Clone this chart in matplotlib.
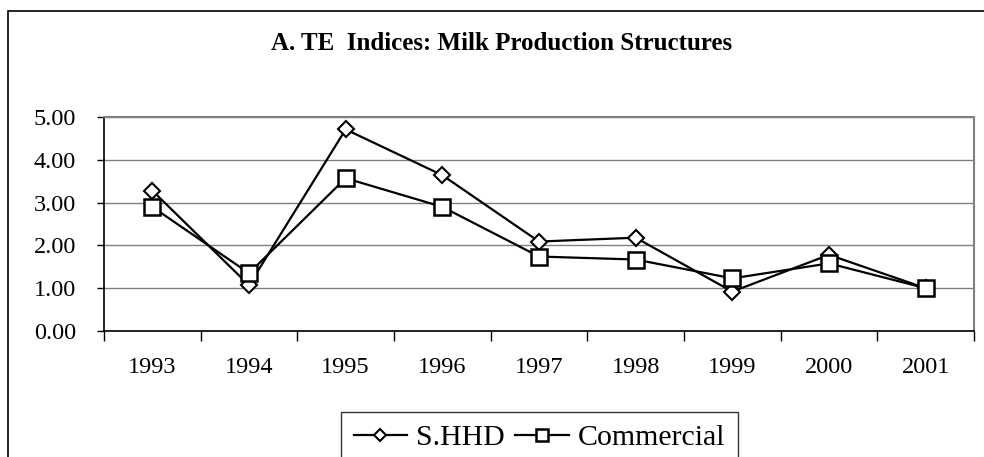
import matplotlib
matplotlib.use("Agg")
import matplotlib.pyplot as plt
from matplotlib.patches import Rectangle

years = ["1993", "1994", "1995", "1996", "1997", "1998", "1999", "2000", "2001"]
shhd = [3.28, 1.07, 4.71, 3.64, 2.09, 2.18, 0.92, 1.78, 1.00]
commercial = [2.90, 1.35, 3.57, 2.90, 1.74, 1.67, 1.23, 1.58, 1.00]
yticks = [0, 1, 2, 3, 4, 5]

plt.rcParams['font.family'] = ['Liberation Serif', 'DejaVu Serif']

W, H = 984, 457
fig = plt.figure(figsize=(W / 100, H / 100), dpi=100)

# outer chart frame
fig.patches.append(Rectangle((8 / W, -0.05), 1.1, 1 - 11 / H + 0.05, transform=fig.transFigure,
                             fill=False, edgecolor='black', linewidth=1.2))

left, right, top, bottom = 104, 974, 117, 331
ax = fig.add_axes([left / W, 1 - bottom / H, (right - left) / W, (bottom - top) / H])

x = list(range(len(years)))
ax.plot(x, shhd, color='black', linewidth=1.6, marker='D', markersize=8,
        markerfacecolor='white', markeredgecolor='black', markeredgewidth=1.5, label='S.HHD', zorder=3)
ax.plot(x, commercial, color='black', linewidth=1.6, marker='s', markersize=11,
        markerfacecolor='white', markeredgecolor='black', markeredgewidth=1.8, label='Commercial', zorder=3)

ax.set_xlim(-0.5, len(years) - 0.5)
ax.set_ylim(0, 5)
ax.set_yticks(yticks)
ax.set_yticklabels([f"{v:.2f}" for v in yticks], fontsize=17.5)
ax.set_xticks(x)
ax.set_xticklabels(years, fontsize=17.5)
ax.tick_params(axis='x', length=0, pad=19)
ax.set_xticks([i - 0.5 for i in range(len(years) + 1)], minor=True)
ax.tick_params(axis='x', which='minor', length=7, width=1, direction='out', color='black')
ax.tick_params(axis='y', length=5, width=1, direction='out', pad=15)

ax.yaxis.grid(True, color='#808080', linewidth=1)
ax.set_axisbelow(True)
for s in ['top', 'right']:
    ax.spines[s].set_color('#808080')
    ax.spines[s].set_linewidth(1.5)
for s in ['left', 'bottom']:
    ax.spines[s].set_color('black')
    ax.spines[s].set_linewidth(1.2)

fig.text(502 / W, 1 - 43 / H, "A. TE  Indices: Milk Production Structures", ha='center', va='center',
         fontsize=18, fontweight='bold')

leg = fig.legend(loc='upper left', bbox_to_anchor=(341 / W, 1 - 412 / H), ncol=2, fontsize=21.5,
                 frameon=True, fancybox=False, edgecolor='black', handlelength=1.8,
                 handletextpad=0.3, columnspacing=0.35, borderpad=0.42, borderaxespad=0,
                 markerscale=0.75)
leg.get_frame().set_linewidth(1.0)

fig.savefig("out.png", dpi=100)
